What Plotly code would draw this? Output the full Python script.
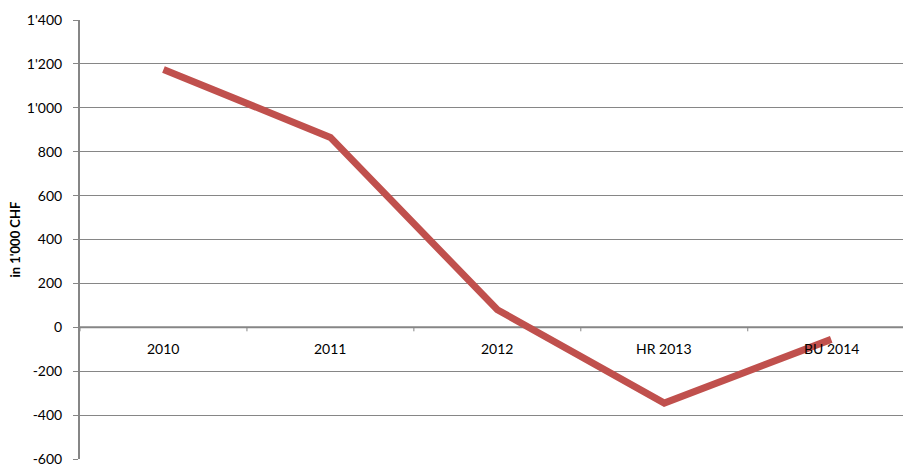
import plotly.graph_objects as go

categories = ["2010", "2011", "2012", "HR 2013", "BU 2014"]
values = [1175, 865, 80, -345, -55]
y_ticks = [-600, -400, -200, 0, 200, 400, 600, 800, 1000, 1200, 1400]
y_tick_labels = ["-600", "-400", "-200", "0", "200", "400", "600", "800", "1'000", "1'200", "1'400"]
y_title = "in 1'000 CHF"

line_color = "#C0504D"
grid_color = "#868686"
font_family = "Lato, 'Open Sans', sans-serif"

x_idx = list(range(len(categories)))

fig = go.Figure()
fig.add_trace(go.Scatter(
    x=x_idx, y=values, mode="lines",
    line=dict(color=line_color, width=7),
    hoverinfo="skip", showlegend=False,
))

annotations = []
for i, c in enumerate(categories):
    annotations.append(dict(x=i, y=0, xref="x", yref="y", text=c, showarrow=False,
                            yshift=-21, font=dict(family=font_family, size=14, color="#000000")))
annotations.append(dict(x=0, y=0.5, xref="paper", yref="paper", text="<b>" + y_title + "</b>",
                        showarrow=False, textangle=-90, xshift=-76,
                        font=dict(family=font_family, size=13, color="#000000")))

shapes = []
shapes.append(dict(type="line", xref="paper", yref="y", x0=0, x1=1, y0=0, y1=0,
                   line=dict(color=grid_color, width=2), layer="below"))
for i in range(len(categories) + 1):
    shapes.append(dict(type="line", xref="x", yref="y", x0=i - 0.5, x1=i - 0.5,
                       ysizemode="pixel", yanchor=0, y0=0, y1=-4,
                       line=dict(color=grid_color, width=1)))

fig.update_layout(
    width=903, height=467,
    margin=dict(l=80, r=0, t=20, b=5),
    paper_bgcolor="white", plot_bgcolor="white",
    font=dict(family=font_family, size=14, color="#000000"),
    shapes=shapes,
    annotations=annotations,
    xaxis=dict(range=[-0.5, 4.43], showgrid=False, zeroline=False,
               showticklabels=False, showline=False, ticks=""),
    yaxis=dict(range=[-600, 1400], tickvals=y_ticks, ticktext=y_tick_labels,
               ticklabeloverflow="allow",
               showgrid=True, gridcolor=grid_color, gridwidth=1,
               zeroline=False, showline=True, linecolor=grid_color, linewidth=2,
               ticks="outside", ticklen=5, tickcolor=grid_color, ticklabelstandoff=8),
)

fig.write_html("out.html")
